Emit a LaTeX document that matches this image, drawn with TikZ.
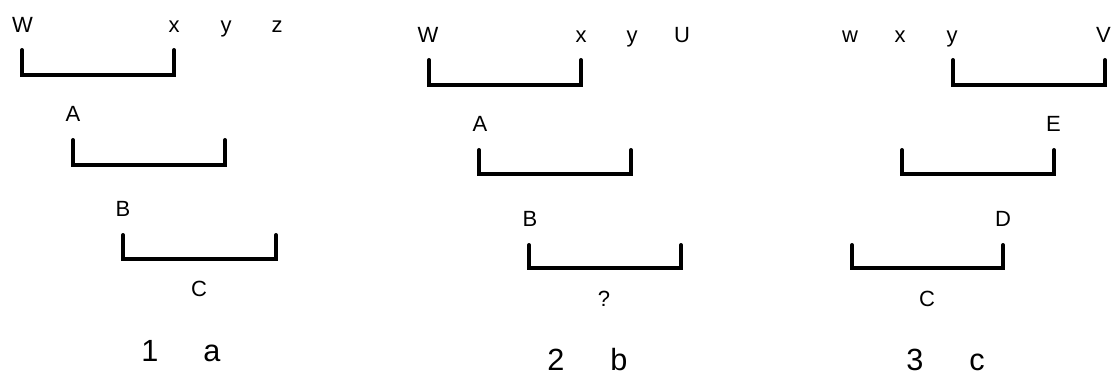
\documentclass[tikz,border=0pt]{standalone}
\usepackage{fontspec}
\setmainfont{Liberation Sans}
\begin{document}
\begin{tikzpicture}[x=0.75pt,y=-0.75pt,
  lbl/.style={anchor=base,inner sep=0pt,font=\fontsize{16.5}{18}\selectfont},
  biglbl/.style={anchor=base,inner sep=0pt,font=\fontsize{23}{26}\selectfont},
  brk/.style={line width=3pt,line cap=round,line join=miter,black}]
\useasboundingbox (0,0) rectangle (1113,374);
% Panel 1
\node[lbl] (p1W) at (22.5,32.5) {W};
\node[lbl] (p1x) at (174,32.5) {x};
\node[lbl] (p1y) at (226,32.5) {y};
\node[lbl] (p1z) at (277,32.5) {z};
\node[lbl] (p1A) at (73,121.7) {A};
\node[lbl] (p1B) at (123,216) {B};
\node[lbl] (p1C) at (199,296.5) {C};
\draw[brk] (22,50) -- (22,75) -- (174,75) -- (174,50);
\draw[brk] (73,140) -- (73,165) -- (225,165) -- (225,140);
\draw[brk] (123,235) -- (123,259) -- (276,259) -- (276,235);
\node[biglbl] (n1) at (150,361) {1};
\node[biglbl] (l1) at (212,361) {a};
% Panel 2
\node[lbl] (p2W) at (428,42.7) {W};
\node[lbl] (p2x) at (581,42.7) {x};
\node[lbl] (p2y) at (632,42.7) {y};
\node[lbl] (p2U) at (682,42.7) {U};
\node[lbl] (p2A) at (480,131.7) {A};
\node[lbl] (p2B) at (530,226) {B};
\node[lbl] (p2Q) at (604,306.5) {?};
\draw[brk] (429,60) -- (429,85) -- (581,85) -- (581,60);
\draw[brk] (479,150) -- (479,174) -- (631,174) -- (631,150);
\draw[brk] (529,245) -- (529,268) -- (681,268) -- (681,245);
\node[biglbl] (n2) at (556,370.5) {2};
\node[biglbl] (l2) at (619,370.5) {b};
% Panel 3
\node[lbl] (p3w) at (850,42.7) {w};
\node[lbl] (p3x) at (900,42.7) {x};
\node[lbl] (p3y) at (952,42.7) {y};
\node[lbl] (p3V) at (1103.5,42.7) {V};
\node[lbl] (p3E) at (1053.5,131.7) {E};
\node[lbl] (p3D) at (1003,226) {D};
\node[lbl] (p3C) at (927,306.5) {C};
\draw[brk] (953,60) -- (953,85) -- (1105,85) -- (1105,60);
\draw[brk] (902,150) -- (902,174) -- (1054,174) -- (1054,150);
\draw[brk] (852,245) -- (852,268) -- (1003,268) -- (1003,245);
\node[biglbl] (n3) at (915,370.5) {3};
\node[biglbl] (l3) at (977,370.5) {c};
\end{tikzpicture}
\end{document}
